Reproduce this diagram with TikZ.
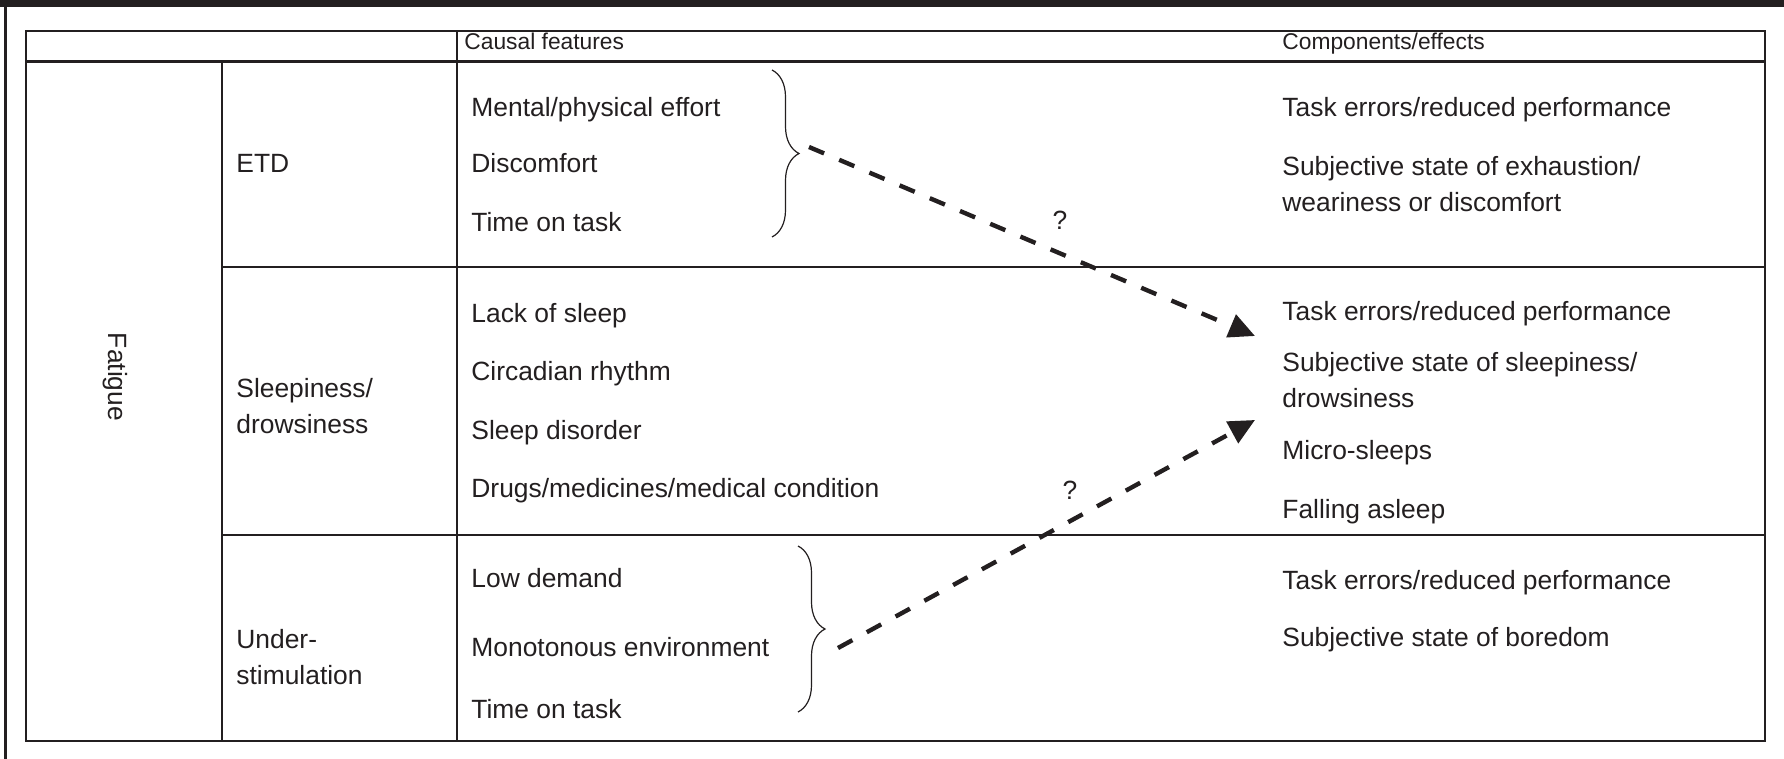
\documentclass[tikz,border=0pt]{standalone}
\usepackage{fontspec}
\setmainfont{Liberation Sans}
\usetikzlibrary{decorations.pathreplacing,arrows.meta}
\definecolor{ink}{HTML}{231F20}
\tikzset{
	cell/.style={anchor=base west,inner sep=0pt,text=ink,align=left,font=\fontsize{13.2}{18}\selectfont},
	twoline/.style={cell,anchor=west},
	head/.style={anchor=base west,inner sep=0pt,text=ink,font=\fontsize{11.4}{14}\selectfont},
	rule/.style={draw=ink,line width=1.3pt},
	curly/.style={draw=ink,line width=0.6pt,decorate,decoration={brace,amplitude=13.5pt}},
	link/.style={draw=ink,line width=2.2pt,dash pattern=on 8.2pt off 8.2pt,-{Triangle[length=13pt,width=12pt]}}
}

\begin{document}
\begin{tikzpicture}[x=0.5pt,y=-0.5pt]
	\useasboundingbox (0,0) rectangle (1784,759);
	\fill[ink] (0,0) rectangle (1784,7);
	\draw[rule] (5.5,7) -- (5.5,759);

	% grid of the table
	\draw[rule] (26,31) rectangle (1765,741);
	\draw[rule] (26,61.5) -- (1765,61.5);
	\draw[rule] (222,61.5) -- (222,741);
	\draw[rule] (457,31) -- (457,741);
	\draw[rule] (222,267) -- (1765,267);
	\draw[rule] (222,535) -- (1765,535);

	\node [head] (hcause) at (464,50) {Causal features};
	\node [head] (heffect) at (1282,50) {Components/effects};

	\node [cell,rotate=-90,anchor=center] (fatigue) at (115,377) {Fatigue};
	\node [cell] (etd) at (236,173) {ETD};
	\node [twoline] (sleepy) at (236,406) {Sleepiness/\\drowsiness};
	\node [twoline] (under) at (236,657) {Under-\\stimulation};

	% causal features
	\node [cell] (effort) at (471,117) {Mental/physical effort};
	\node [cell] (discomf) at (471,173) {Discomfort};
	\node [cell] (tot1) at (471,232) {Time on task};
	\node [cell] (nosleep) at (471,322) {Lack of sleep};
	\node [cell] (circ) at (471,380) {Circadian rhythm};
	\node [cell] (disord) at (471,439) {Sleep disorder};
	\node [cell] (drugs) at (471,497) {Drugs/medicines/medical condition};
	\node [cell] (lowdem) at (471,587) {Low demand};
	\node [cell] (monot) at (471,656) {Monotonous environment};
	\node [cell] (tot2) at (471,718) {Time on task};

	% components/effects
	\node [cell] (errA) at (1282,117) {Task errors/reduced performance};
	\node [twoline] (exhaust) at (1282,184) {Subjective state of exhaustion/\\weariness or discomfort};
	\node [cell] (errB) at (1282,321) {Task errors/reduced performance};
	\node [twoline] (drowsy) at (1282,380) {Subjective state of sleepiness/\\drowsiness};
	\node [cell] (micro) at (1282,459) {Micro-sleeps};
	\node [cell] (asleep) at (1282,518) {Falling asleep};
	\node [cell] (errC) at (1282,589) {Task errors/reduced performance};
	\node [cell] (bored) at (1282,646) {Subjective state of boredom};

	% braces and the two links
	\draw[curly] (772,70) -- (772,237) coordinate[midway] (braceA);
	\draw[curly] (798,546) -- (798,712) coordinate[midway] (braceB);
	\coordinate (fromA) at (809,147);
	\coordinate (fromB) at (838,648);
	\coordinate (toA) at (1255,336);
	\coordinate (toB) at (1255,420);
	\draw[link] (fromA) -- (toA);
	\draw[link] (fromB) -- (toB);
	\node [cell,anchor=center] (qA) at (1060,220) {?};
	\node [cell,anchor=center] (qB) at (1070,490) {?};
\end{tikzpicture}
\end{document}
